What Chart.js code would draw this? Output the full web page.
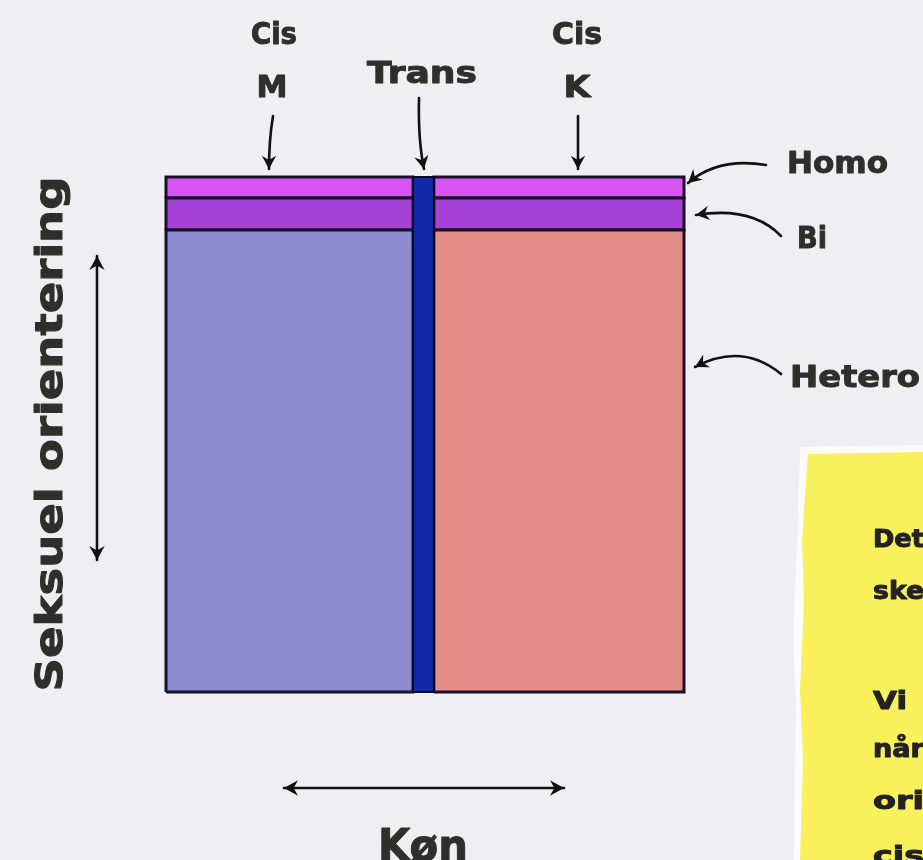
<!DOCTYPE html>
<html>
<head>
<meta charset="utf-8">
<script src="https://cdn.jsdelivr.net/npm/chart.js@4"></script>
<style>
  html, body { margin: 0; padding: 0; background: #efeff3; }
  #wrap { width: 923px; height: 860px; position: relative; }
</style>
</head>
<body>
<div id="wrap"><canvas id="c" width="923" height="860"></canvas></div>
<script>
// ---- data ----
const genderCategories = ['Cis M', 'Trans', 'Cis K'];
const genderShares = [47.7, 4.0, 48.3];
const orientationCategories = ['Hetero', 'Bi', 'Homo'];
const orientationCisM = [89.7, 6.2, 4.1];
const orientationTrans = [100];
const orientationCisK = [89.7, 6.2, 4.1];
const topLabels = [['Cis', 'M'], ['Trans'], ['Cis', 'K']];
const rightLabels = ['Homo', 'Bi', 'Hetero'];
const yAxisTitle = 'Seksuel orientering';
const xAxisTitle = 'Køn';
const noteLines = ['Det', 'ske', 'Vi', 'når', 'ori', 'cis'];

// ---- styles ----
const colorsCisM = ['#8b8bd0', '#a642d6', '#d654f2'];
const colorsTrans = ['#1428aa'];
const colorsCisK = ['#e48c88', '#a642d6', '#d654f2'];
const INK = '#161028';
const TEXT = '#2d2f2b';
const FONT = '"DejaVu Sans", sans-serif';

const columnRows = [orientationCisM, orientationTrans, orientationCisK];
const columnColors = [colorsCisM, colorsTrans, colorsCisK];

const datasets = [];
let x0 = 0;
genderCategories.forEach((g, ci) => {
  const x1 = x0 + genderShares[ci];
  let y0 = 0;
  columnRows[ci].forEach((share, ri) => {
    const y1 = y0 + share;
    const isTrans = g === 'Trans';
    datasets.push({
      label: g + (isTrans ? '' : ' – ' + orientationCategories[ri]),
      data: [{x: x0, y: y0}, {x: x1, y: y0}, {x: x1, y: y1}, {x: x0, y: y1}, {x: x0, y: y0}],
      showLine: true,
      fill: 'shape',
      backgroundColor: columnColors[ci][ri],
      borderColor: isTrans ? '#05081e' : INK,
      borderWidth: isTrans ? 2 : 3,
      pointRadius: 0,
      tension: 0,
      clip: false,
      order: isTrans ? 0 : 1
    });
    y0 = y1;
  });
  x0 = x1;
});

function arrowHead(ctx, tx, ty, fx, fy, size) {
  const a = Math.atan2(ty - fy, tx - fx);
  ctx.beginPath();
  ctx.moveTo(tx, ty);
  ctx.lineTo(tx - size * Math.cos(a - 0.5), ty - size * Math.sin(a - 0.5));
  ctx.lineTo(tx - size * 0.6 * Math.cos(a), ty - size * 0.6 * Math.sin(a));
  ctx.lineTo(tx - size * Math.cos(a + 0.5), ty - size * Math.sin(a + 0.5));
  ctx.closePath();
  ctx.fill();
}
function curveArrow(ctx, sx, sy, cx, cy, ex, ey) {
  ctx.beginPath();
  ctx.moveTo(sx, sy);
  ctx.quadraticCurveTo(cx, cy, ex, ey);
  ctx.stroke();
  arrowHead(ctx, ex, ey, cx, cy, 15);
}
function doubleArrow(ctx, ax, ay, bx, by) {
  ctx.beginPath();
  ctx.moveTo(ax, ay);
  ctx.lineTo(bx, by);
  ctx.stroke();
  arrowHead(ctx, ax, ay, bx, by, 16);
  arrowHead(ctx, bx, by, ax, ay, 16);
}
// bold text stretched horizontally to targetW (x = centre, or left edge)
function label(ctx, text, x, cy, size, targetW, align) {
  ctx.save();
  ctx.font = 'bold ' + size + 'px ' + FONT;
  ctx.textBaseline = 'middle';
  ctx.textAlign = 'left';
  const natural = ctx.measureText(text).width;
  const sx = targetW / natural;
  const left = align === 'left' ? x : x - targetW / 2;
  ctx.translate(left, cy);
  ctx.scale(sx, 1);
  ctx.lineWidth = 1;
  ctx.strokeStyle = ctx.fillStyle;
  ctx.lineJoin = 'round';
  ctx.strokeText(text, 0, 0);
  ctx.fillText(text, 0, 0);
  ctx.restore();
}

const decor = {
  id: 'decor',
  beforeDraw(chart) {
    const ctx = chart.ctx;
    ctx.save();
    ctx.fillStyle = '#efeff3';
    ctx.fillRect(0, 0, chart.width, chart.height);
    // sticky note: white paper edge then yellow
    ctx.fillStyle = '#fbfbfb';
    ctx.beginPath();
    ctx.moveTo(800, 447); ctx.lineTo(923, 445); ctx.lineTo(923, 860);
    ctx.lineTo(794, 860); ctx.lineTo(796, 700); ctx.lineTo(793, 640); ctx.lineTo(798, 520);
    ctx.closePath(); ctx.fill();
    ctx.fillStyle = '#f9f15c';
    ctx.beginPath();
    ctx.moveTo(808, 454); ctx.lineTo(923, 452); ctx.lineTo(923, 860);
    ctx.lineTo(800, 860); ctx.lineTo(803, 760); ctx.lineTo(800, 690); ctx.lineTo(804, 600);
    ctx.lineTo(802, 540); ctx.lineTo(806, 480);
    ctx.closePath(); ctx.fill();
    ctx.fillStyle = '#222';
    const noteY = [540, 592, 702, 750, 802, 857];
    noteLines.forEach((t, i) => label(ctx, t, 873, noteY[i], 25, t.length * 17, 'left'));
    ctx.restore();
  },
  afterDraw(chart) {
    const ctx = chart.ctx;
    ctx.save();
    ctx.fillStyle = TEXT;
    // top labels
    label(ctx, topLabels[0][0], 274, 36, 31, 46);
    label(ctx, topLabels[0][1], 272, 89, 31, 31);
    label(ctx, topLabels[1][0], 422, 75, 31, 110);
    label(ctx, topLabels[2][0], 577, 36, 31, 50);
    label(ctx, topLabels[2][1], 577, 89, 31, 27);
    // right labels
    label(ctx, rightLabels[0], 787, 165, 31, 101, 'left');
    label(ctx, rightLabels[1], 797, 240, 31, 30, 'left');
    label(ctx, rightLabels[2], 790, 379, 31, 130, 'left');
    // axis titles
    ctx.save();
    ctx.translate(52, 434);
    ctx.rotate(-Math.PI / 2);
    label(ctx, yAxisTitle, 0, 0, 38, 515);
    ctx.restore();
    label(ctx, xAxisTitle, 423, 850, 44, 90);
    // arrows
    ctx.strokeStyle = '#111';
    ctx.fillStyle = '#111';
    ctx.lineWidth = 2.6;
    ctx.lineCap = 'round';
    curveArrow(ctx, 273, 116, 269, 140, 269, 169);
    curveArrow(ctx, 419, 98, 418, 140, 424, 169);
    curveArrow(ctx, 578, 116, 578, 140, 578, 169);
    curveArrow(ctx, 766, 165, 718, 157, 688, 183);
    curveArrow(ctx, 781, 236, 752, 206, 696, 215);
    curveArrow(ctx, 781, 374, 742, 342, 695, 367);
    doubleArrow(ctx, 97, 256, 97, 560);
    doubleArrow(ctx, 284, 788, 564, 788);
    ctx.restore();
  }
};

new Chart(document.getElementById('c'), {
  type: 'scatter',
  data: { datasets },
  options: {
    responsive: false,
    animation: false,
    layout: { padding: { left: 166, right: 239, top: 177, bottom: 168 } },
    scales: {
      x: { type: 'linear', min: 0, max: 100, display: false },
      y: { type: 'linear', min: 0, max: 100, display: false }
    },
    plugins: { legend: { display: false }, tooltip: { enabled: false } }
  },
  plugins: [decor]
});
</script>
</body>
</html>
